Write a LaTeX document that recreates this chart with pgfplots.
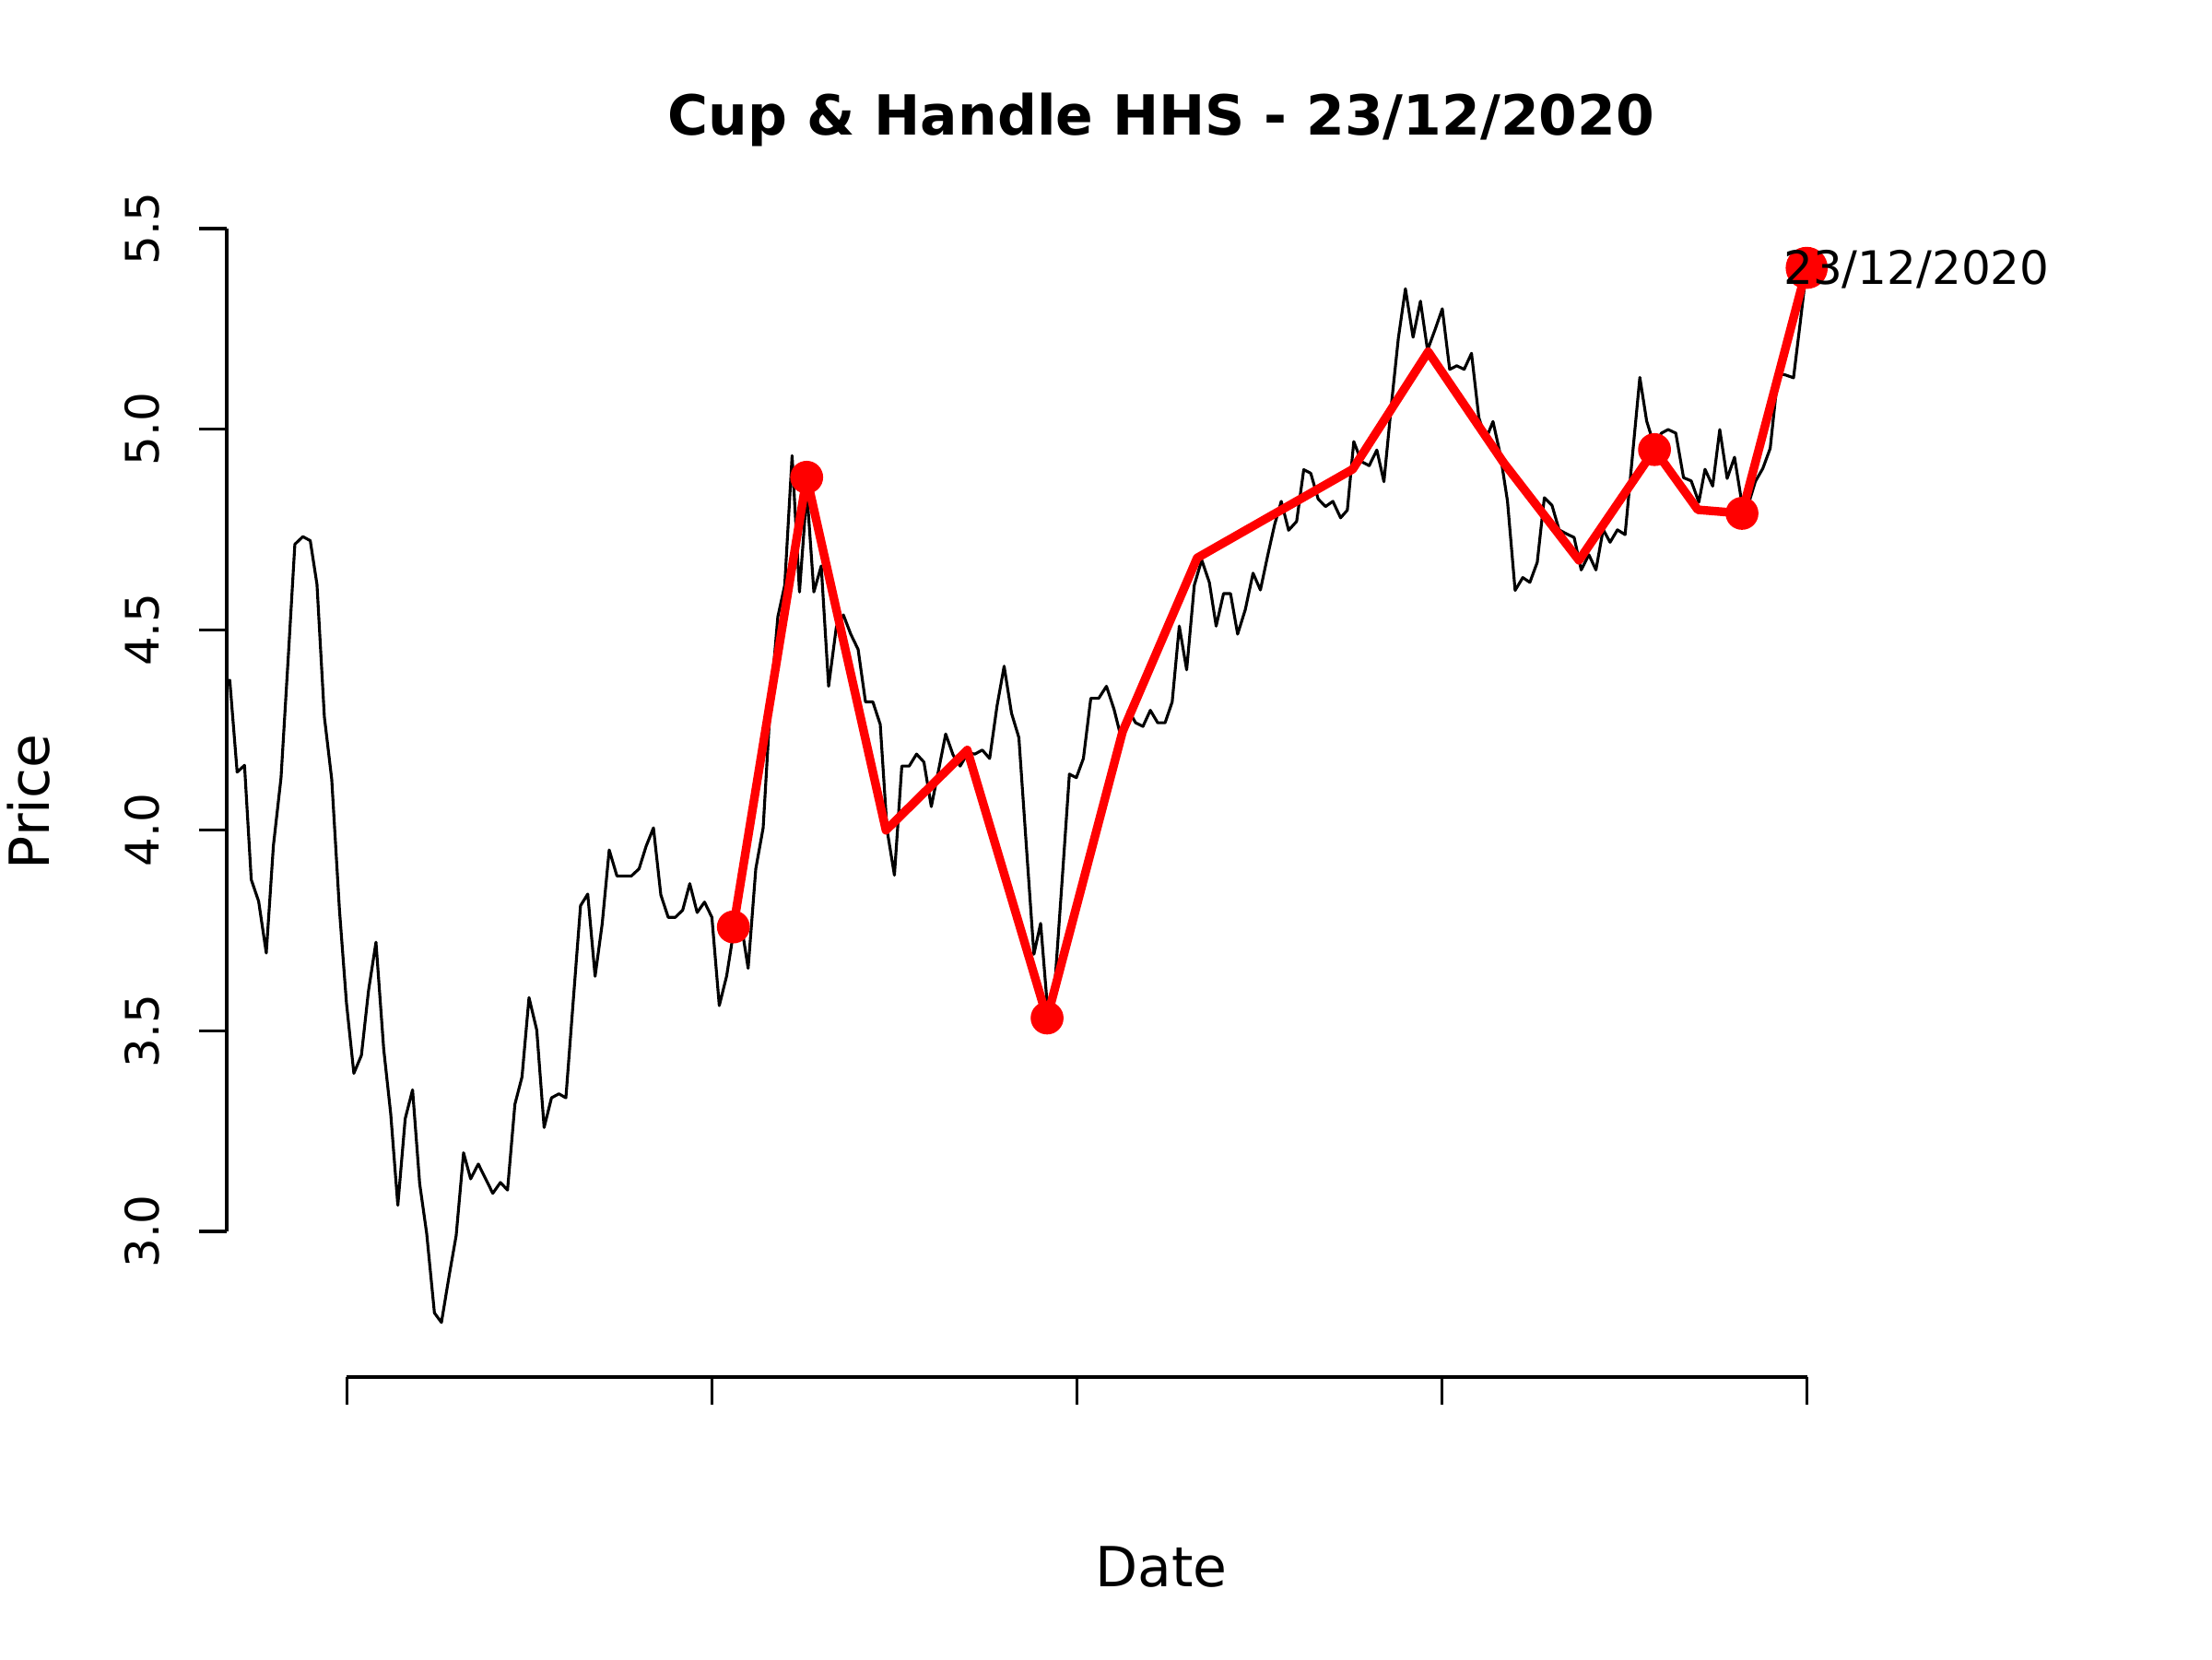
\documentclass[border=0pt]{standalone}
\usepackage{fontspec}
\setmainfont{DejaVu Sans}
\usepackage{pgfplots}
\pgfplotsset{compat=1.18}
\begin{document}
\begin{tikzpicture}
\useasboundingbox (0,0) rectangle (8in,6in);
\begin{axis}[at={(0.82in,1.02in)}, anchor=south west, scale only axis,
  width=6.76in, height=4.16in,
  xmin=246.4, xmax=2274, ymin=2.637, ymax=5.5046,
  hide axis, clip=false]
% price series
\addplot[black, line width=0.75bp, line join=round, line cap=round] coordinates {
(246.4,4.372)(249.7,4.374)(257.7,4.145)(265.7,4.162)(273.0,3.877)(281.0,3.823)(289.3,3.694)
(297.0,3.961)(305.3,4.131)(313.7,4.453)(320.3,4.713)(329.0,4.732)(337.0,4.722)(344.3,4.613)
(352.3,4.283)(360.3,4.127)(368.7,3.801)(376.3,3.569)(384.3,3.394)(392.5,3.439)
(400.2,3.600)(408.3,3.721)(416.7,3.454)(424.3,3.293)(432.0,3.065)(440.0,3.281)(448.0,3.353)
(455.7,3.119)(463.3,2.995)(471.7,2.797)(479.3,2.773)(487.7,2.890)(495.3,2.990)(503.3,3.196)
(511.0,3.131)(519.3,3.168)(527.3,3.131)(535.0,3.095)(543.3,3.122)(551.0,3.103)(559.0,3.317)
(566.7,3.385)(574.3,3.583)(582.7,3.502)(590.7,3.259)(598.7,3.333)(606.7,3.343)(614.3,3.333)
(622.3,3.575)(630.2,3.812)(638.0,3.841)(646.0,3.636)
(653.7,3.767)(661.3,3.951)(669.7,3.886)(678.0,3.886)(685.3,3.886)(693.7,3.904)(701.3,3.960)
(709.3,4.006)(717.3,3.839)(725.3,3.783)(733.0,3.783)(741.0,3.801)(748.7,3.867)(756.7,3.795)
(764.7,3.821)(772.7,3.783)(780.7,3.563)(788.7,3.637)(796.3,3.748)(804.3,3.770)(812.0,3.656)
(820.3,3.904)(828.3,4.006)(836.0,4.310)(844.2,4.532)(851.7,4.611)(859.7,4.934)
(867.7,4.594)(875.7,4.845)(883.3,4.594)(891.3,4.659)(899.3,4.359)(907.7,4.507)(915.3,4.537)
(923.3,4.489)(931.3,4.451)(939.3,4.320)(947.3,4.320)(955.3,4.264)(962.7,4.001)(970.7,3.888)
(978.7,4.160)(986.7,4.160)(994.7,4.190)(1002.7,4.170)(1010.7,4.059)(1018.7,4.151)(1026.3,4.240)
(1034.3,4.188)(1042.0,4.160)(1050.3,4.193)(1058.0,4.190)(1066.0,4.200)(1074.0,4.179)(1082.0,4.310)
(1089.7,4.409)(1097.7,4.292)(1105.7,4.231)(1113.7,3.964)(1122.0,3.691)(1129.3,3.768)(1137.3,3.541)
(1145.3,3.635)(1153.3,3.898)(1160.5,4.140)(1168.0,4.131)
(1175.7,4.179)(1183.7,4.329)(1192.3,4.329)(1200.7,4.359)(1209.0,4.301)(1216.7,4.230)(1224.7,4.299)
(1232.3,4.268)(1240.3,4.259)(1248.3,4.299)(1256.3,4.268)(1264.3,4.268)(1272.0,4.320)(1279.7,4.509)
(1287.7,4.400)(1296.0,4.611)(1304.0,4.674)(1312.3,4.618)(1319.7,4.509)(1327.7,4.590)(1335.3,4.590)
(1343.0,4.489)(1351.3,4.550)(1359.7,4.641)(1367.7,4.599)(1375.7,4.686)(1383.0,4.761)(1390.3,4.820)
(1398.3,4.748)(1407.0,4.770)(1414.7,4.899)(1422.3,4.890)(1430.3,4.826)(1438.3,4.807)(1446.3,4.820)
(1454.7,4.779)(1462.0,4.798)
(1469.0,4.969)(1477.3,4.919)(1485.7,4.909)(1494.0,4.948)(1501.7,4.869)(1510.0,5.066)(1517.3,5.226)
(1525.0,5.350)(1533.3,5.229)(1541.3,5.319)(1549.0,5.197)(1557.3,5.249)(1565.0,5.300)(1573.0,5.149)
(1580.7,5.158)(1588.7,5.149)(1596.7,5.189)(1604.7,5.028)(1612.3,4.975)(1620.0,5.019)(1628.0,4.936)
(1635.7,4.821)(1644.0,4.598)(1652.3,4.630)(1660.0,4.618)(1668.0,4.668)(1675.7,4.829)(1684.0,4.810)
(1691.7,4.749)(1699.7,4.739)(1708.0,4.730)(1715.7,4.649)(1724.0,4.687)(1731.7,4.649)(1739.5,4.750)
(1747.0,4.718)
(1755.0,4.749)(1763.3,4.737)(1771.7,4.944)(1779.3,5.129)(1786.7,5.020)(1795.0,4.959)(1802.7,4.990)
(1810.0,4.999)(1818.3,4.990)(1826.7,4.879)(1835.0,4.871)(1843.3,4.818)(1850.0,4.900)(1858.3,4.858)
(1866.0,4.999)(1874.0,4.877)(1882.0,4.930)(1889.3,4.825)(1896.7,4.810)(1904.7,4.870)(1912.7,4.902)
(1920.7,4.952)(1929.3,5.139)(1937.3,5.135)(1946.0,5.128)(1953.3,5.266)(1960.0,5.396)
};
% pattern line
\addplot[red, line width=2.25bp, line join=round, line cap=round] coordinates {
(796,3.759)(875.5,4.880)(961.5,4.000)(1049.7,4.200)(1136.3,3.532)(1218.2,4.246)(1299.1,4.679)
(1467.8,4.900)(1549.7,5.193)(1631.6,4.916)(1713.3,4.673)(1795.2,4.949)(1842.2,4.799)(1890.1,4.790)
(1960.3,5.402)
};
\addplot[red, only marks, mark=*, mark size=4.1pt, mark options={solid, fill=red, draw=red}] coordinates {
(796,3.759)(875.5,4.880)(1136.3,3.532)(1795.2,4.949)(1890.1,4.790)
};
\addplot[red, only marks, mark=*, mark size=5.3pt, mark options={solid, fill=red, draw=red}] coordinates {
(1960.3,5.402)
};
% axes
\draw[line width=0.75bp] (axis cs:246.4,3) -- (axis cs:246.4,5.5);
\draw[line width=0.75bp] (axis cs:246.4,3.0) -- (axis cs:216.4,3.0);
\draw[line width=0.75bp] (axis cs:246.4,3.5) -- (axis cs:216.4,3.5);
\draw[line width=0.75bp] (axis cs:246.4,4.0) -- (axis cs:216.4,4.0);
\draw[line width=0.75bp] (axis cs:246.4,4.5) -- (axis cs:216.4,4.5);
\draw[line width=0.75bp] (axis cs:246.4,5.0) -- (axis cs:216.4,5.0);
\draw[line width=0.75bp] (axis cs:246.4,5.5) -- (axis cs:216.4,5.5);
\draw[line width=0.75bp] (axis cs:376.5,2.637) -- (axis cs:1960.7,2.637);
\draw[line width=0.75bp] (axis cs:376.5,2.637) -- (axis cs:376.5,2.568);
\draw[line width=0.75bp] (axis cs:772.5,2.637) -- (axis cs:772.5,2.568);
\draw[line width=0.75bp] (axis cs:1168.6,2.637) -- (axis cs:1168.6,2.568);
\draw[line width=0.75bp] (axis cs:1564.6,2.637) -- (axis cs:1564.6,2.568);
\draw[line width=0.75bp] (axis cs:1960.7,2.637) -- (axis cs:1960.7,2.568);
\begin{scope}[every node/.style={rotate=90, anchor=base, inner sep=0pt, font=\fontsize{12.05pt}{14pt}\selectfont}]
\node at (axis cs:173.4,3.0) {3.0};
\node at (axis cs:173.4,3.5) {3.5};
\node at (axis cs:173.4,4.0) {4.0};
\node at (axis cs:173.4,4.5) {4.5};
\node at (axis cs:173.4,5.0) {5.0};
\node at (axis cs:173.4,5.5) {5.5};
\end{scope}
\coordinate (lab) at (axis cs:1934.5,5.361);
\end{axis}
\node[anchor=base west, inner sep=0pt, font=\fontsize{12.05pt}{14pt}\selectfont] at (lab) {23/12/2020};
\node[anchor=base, inner sep=0pt, font=\fontsize{14.45pt}{17pt}\selectfont\bfseries] at (4.2in,5.513in) {Cup \& Handle HHS - 23/12/2020};
\node[anchor=base, inner sep=0pt, font=\fontsize{14.45pt}{17pt}\selectfont] at (4.2in,0.261in) {Date};
\node[anchor=base, rotate=90, inner sep=0pt, font=\fontsize{14.45pt}{17pt}\selectfont] at (0.18in,3.1in) {Price};
\end{tikzpicture}
\end{document}
